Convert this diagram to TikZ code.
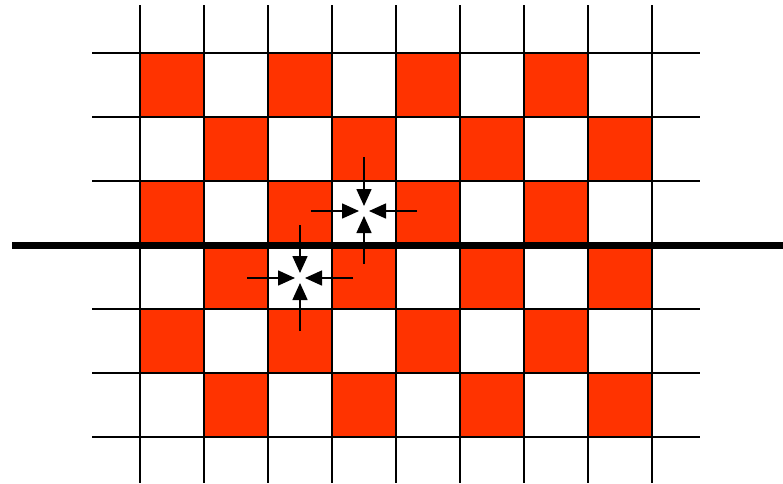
\documentclass[tikz,border=0pt]{standalone}
\usetikzlibrary{arrows.meta}
\definecolor{cellred}{HTML}{FF3300}
\begin{document}
\begin{tikzpicture}[x=1pt,y=-1pt,
  gridline/.style={line width=2pt,black},
  thickline/.style={line width=7pt,black},
  redcell/.style={fill=cellred,draw=none},
  inarrow/.style={line width=1.6pt,-{Triangle[length=17pt,width=15pt]},shorten >=5pt}]
\useasboundingbox (0,0) rectangle (783,483);
% red cells
\foreach \r in {0,...,5}{
  \foreach \c in {0,...,7}{
    \pgfmathtruncatemacro{\p}{mod(\r+\c,2)}
    \ifnum\p=0
      \fill[redcell] ({140+64*\c},{53+64*\r}) rectangle ({204+64*\c},{117+64*\r});
    \fi
  }
}
% grid
\foreach \x in {140,204,...,652}{
  \draw[gridline] (\x,5) -- (\x,483);
}
\foreach \y in {53,117,181,309,373,437}{
  \draw[gridline] (92,\y) -- (700,\y);
}
\draw[thickline] (12,245) -- (783,245);
% arrow centres
\coordinate (c1) at (364,211);
\coordinate (t1) at (364,157);
\coordinate (l1) at (311,211);
\coordinate (r1) at (417,211);
\coordinate (b1) at (364,264);
\coordinate (c2) at (300,278);
\coordinate (t2) at (300,225);
\coordinate (l2) at (247,278);
\coordinate (r2) at (353,278);
\coordinate (b2) at (300,331);
\foreach \s in {t1,l1,r1,b1}{\draw[inarrow] (\s) -- (c1);}
\foreach \s in {t2,l2,r2,b2}{\draw[inarrow] (\s) -- (c2);}
\end{tikzpicture}
\end{document}
